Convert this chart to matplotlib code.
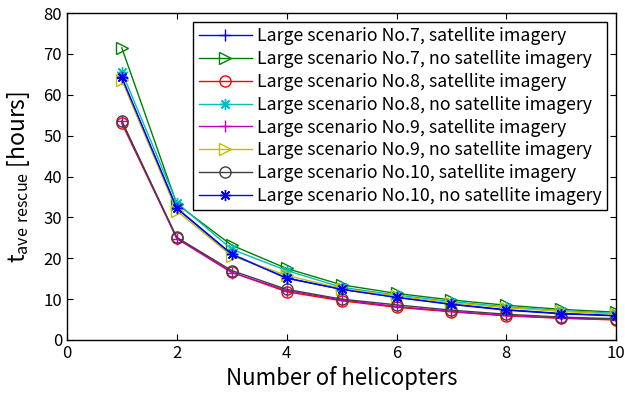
import numpy as np
import matplotlib
matplotlib.use("Agg")
import matplotlib.pyplot as plt

plt.rcParams['font.family'] = ['Noto Sans CJK JP', 'DejaVu Sans']

# number of helicopters
helicopters = [1, 2, 3, 4, 5, 6, 7, 8, 9, 10]

# average rescue time [hours]
no7_sat = [64.0, 32.3, 21.0, 15.2, 12.4, 10.5, 8.8, 7.4, 6.5, 6.0]
no7_nosat = [71.5, 33.3, 23.2, 17.5, 13.5, 11.4, 9.8, 8.5, 7.5, 6.8]
no8_sat = [53.0, 25.0, 16.6, 11.8, 9.6, 8.0, 6.9, 5.9, 5.3, 4.9]
no8_nosat = [65.6, 33.6, 22.2, 17.0, 12.9, 11.0, 9.4, 8.1, 7.2, 6.5]
no9_sat = [53.5, 24.8, 16.5, 12.1, 9.8, 8.2, 7.0, 6.0, 5.4, 5.0]
no9_nosat = [63.6, 31.6, 20.6, 15.8, 12.6, 10.7, 9.1, 7.9, 7.0, 6.3]
no10_sat = [53.6, 25.1, 17.0, 12.4, 10.0, 8.6, 7.3, 6.3, 5.6, 5.2]
no10_nosat = [64.3, 32.2, 21.0, 15.1, 12.4, 10.4, 8.7, 7.3, 6.4, 5.9]

star = (8, 2, 0)  # asterisk like MATLAB '*'

series = [
    ("Large scenario No.7, satellite imagery", no7_sat, (0, 0, 1), '+', 9),
    ("Large scenario No.7, no satellite imagery", no7_nosat, (0, 0.5, 0), '>', 9),
    ("Large scenario No.8, satellite imagery", no8_sat, (1, 0, 0), 'o', 8),
    ("Large scenario No.8, no satellite imagery", no8_nosat, (0, 0.75, 0.75), star, 8),
    ("Large scenario No.9, satellite imagery", no9_sat, (0.75, 0, 0.75), '+', 9),
    ("Large scenario No.9, no satellite imagery", no9_nosat, (0.75, 0.75, 0), '>', 9),
    ("Large scenario No.10, satellite imagery", no10_sat, (0.25, 0.25, 0.25), 'o', 8),
    ("Large scenario No.10, no satellite imagery", no10_nosat, (0, 0, 1), star, 8),
]

fig = plt.figure(figsize=(6.25, 3.97), dpi=100)
ax = fig.add_axes([0.107, 0.1436, 0.879, 0.8234])

for label, vals, col, mk, ms in series:
    ax.plot(helicopters, vals, color=col, marker=mk, markersize=ms,
            markerfacecolor='none', markeredgecolor=col, linewidth=1.0,
            markeredgewidth=1.0, label=label)

ax.set_xlim(0, 10)
ax.set_ylim(0, 80)
ax.set_xticks(range(0, 11, 2))
ax.set_yticks(range(0, 81, 10))
ax.tick_params(direction='in', top=True, right=True, labelsize=12, length=4)
for s in ax.spines.values():
    s.set_linewidth(1.0)

ax.set_xlabel("Number of helicopters", fontsize=16, labelpad=3)
ax.set_ylabel(r"$\mathregular{t_{ave\ rescue}}$ [hours]", fontsize=16.5, labelpad=8)

leg = ax.legend(loc='upper right', fontsize=12.8, fancybox=False,
                edgecolor='black', framealpha=1, handlelength=3.0,
                borderaxespad=0.5, labelspacing=0.27, handletextpad=0.3,
                borderpad=0.3)
leg.get_frame().set_linewidth(1.0)

fig.savefig("out.png", dpi=100)
